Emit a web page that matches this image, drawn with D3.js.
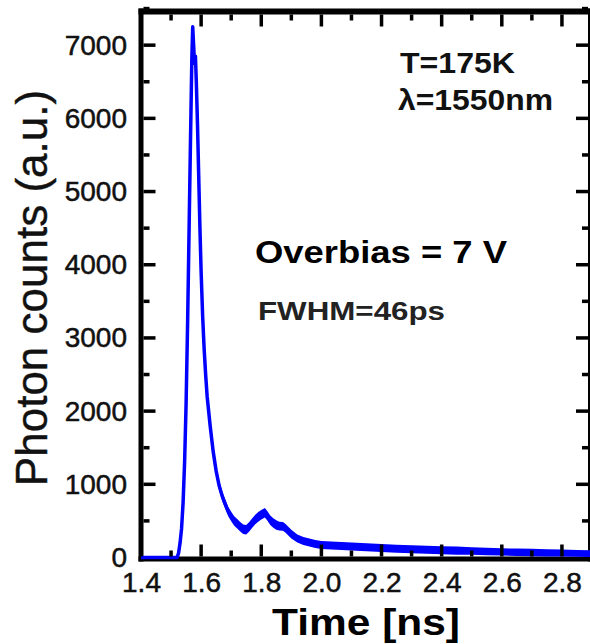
<!DOCTYPE html>
<html>
<head>
<meta charset="utf-8">
<script src="https://cdn.jsdelivr.net/npm/d3@7"></script>
<style>
  html, body { margin: 0; padding: 0; background: #fff; }
  svg { display: block; }
</style>
</head>
<body>
<svg id="chart" width="590" height="644"></svg>
<script>
// ---- data ----
const times = [1.40, 1.45, 1.50, 1.52, 1.525, 1.530, 1.535, 1.540, 1.545, 1.550, 1.555, 1.560, 1.565, 1.569, 1.572,
  1.575, 1.578, 1.581, 1.584, 1.588, 1.592, 1.596, 1.600, 1.605, 1.610, 1.615, 1.620, 1.630, 1.640, 1.650,
  1.660, 1.670, 1.680, 1.690, 1.700, 1.710, 1.720, 1.730, 1.740, 1.750, 1.760, 1.770, 1.780, 1.790, 1.800,
  1.812, 1.820, 1.830, 1.840, 1.850, 1.860, 1.872, 1.880, 1.890, 1.900, 1.920, 1.940, 1.960, 1.980, 2.000,
  2.050, 2.100, 2.150, 2.200, 2.250, 2.300, 2.350, 2.400, 2.450, 2.500, 2.550, 2.600, 2.650, 2.700, 2.750,
  2.800, 2.850, 2.900];
const counts = [0, 0, 0, 0, 60, 200, 400, 750, 1300, 2100, 3200, 4500, 5800, 6800, 7250,
  7000, 6750, 6850, 6500, 5900, 5200, 4500, 3900, 3300, 2850, 2500, 2200, 1800, 1450, 1180,
  980, 840, 730, 630, 560, 500, 460, 420, 385, 378, 420, 470, 520, 555, 585,
  610, 570, 510, 470, 445, 430, 425, 400, 360, 320, 260, 225, 205, 185, 170,
  160, 150, 140, 130, 120, 112, 105, 100, 94, 88, 82, 76, 72, 68, 64,
  60, 56, 52];
// half-width of the noisy band around the curve
const noise = [0, 0, 0, 0, 0, 0, 0, 0, 0, 0, 0, 0, 0, 0, 0,
  0, 0, 0, 0, 0, 0, 0, 10, 20, 30, 40, 50, 60, 65, 65,
  65, 65, 65, 65, 65, 65, 65, 65, 65, 65, 65, 65, 65, 65, 65,
  65, 65, 65, 65, 65, 60, 60, 60, 60, 60, 55, 55, 55, 55, 55,
  55, 55, 55, 55, 55, 55, 55, 55, 55, 52, 50, 50, 50, 50, 50,
  48, 46, 45];

const xMajor = [1.4, 1.6, 1.8, 2.0, 2.2, 2.4, 2.6, 2.8];
const xMinor = [1.5, 1.7, 1.9, 2.1, 2.3, 2.5, 2.7];
const yMajor = [0, 1000, 2000, 3000, 4000, 5000, 6000, 7000];
const yMinor = [500, 1500, 2500, 3500, 4500, 5500, 6500, 7500];
const xTitle = "Time [ns]";
const yTitle = "Photon counts (a.u.)";
const noteTemp = "T=175K";
const noteWave = "λ=1550nm";
const noteBias = "Overbias = 7 V";
const noteFwhm = "FWHM=46ps";

// ---- drawing ----
const FONT = "'Liberation Sans', Arial, Helvetica, sans-serif";
const svg = d3.select("#chart");
svg.append("rect").attr("width", 590).attr("height", 644).attr("fill", "#fff");

const x = d3.scaleLinear().domain([1.4, 2.9]).range([141, 592]);
const y = d3.scaleLinear().domain([0, 7460]).range([557.5, 11.5]);
const X0 = x(1.4), XR = 590.5, YB = y(0) + 1.5, YT = y.range()[1];

const data = times.map((t, i) => ({ t, c: counts[i], n: noise[i] }));

function box(x0, y0, w, h) {
  svg.append("rect").attr("x", x0).attr("y", y0).attr("width", w).attr("height", h).attr("fill", "#000");
}
// frame
box(X0 - 2.5, YT - 3, 5, YB + 2.5 - (YT - 3));
box(X0 - 2.5, YB - 2.5, 600 - X0, 5);
box(X0 - 2.5, YT - 3, 600 - X0, 6);
box(XR - 2.5, YT - 3, 5, YB + 2.5 - (YT - 3));

// curve: noise band + line
svg.append("path").datum(data)
  .attr("fill", "#0000ff")
  .attr("d", d3.area().x(d => x(d.t)).y0(d => y(Math.max(0, d.c - d.n))).y1(d => y(d.c + d.n)));
svg.append("path").datum(data)
  .attr("fill", "none").attr("stroke", "#0000ff").attr("stroke-width", 3.5).attr("stroke-linejoin", "round")
  .attr("d", d3.line().x(d => x(d.t)).y(d => y(d.c)));

// tick marks (inward), positioned with the scales
const MAJ = 12, MIN = 6, TW = 3.5;
xMajor.forEach(v => { box(x(v) - TW / 2, YB - 2.5 - MAJ, TW, MAJ); box(x(v) - TW / 2, YT + 3, TW, MAJ); });
xMinor.forEach(v => { box(x(v) - TW / 2, YB - 2.5 - MIN, TW, MIN); box(x(v) - TW / 2, YT + 3, TW, MIN); });
yMajor.slice(1).forEach(v => { box(X0 + 2.5, y(v) - TW / 2, MAJ, TW); box(XR - 2.5 - MAJ, y(v) - TW / 2, MAJ, TW); });
yMinor.forEach(v => { box(X0 + 2.5, y(v) - TW / 2, MIN, TW); box(XR - 2.5 - MIN, y(v) - TW / 2, MIN, TW); });

// tick labels through d3 axes
const gb = svg.append("g").attr("transform", `translate(0,${y(0)})`)
  .call(d3.axisBottom(x).tickValues(xMajor).tickSize(0).tickPadding(14.5).tickFormat(d3.format(".1f")));
gb.select(".domain").remove();
gb.selectAll(".tick line").remove();
gb.selectAll(".tick text").attr("font-family", FONT).attr("font-size", 28).attr("fill", "#111")
  .attr("stroke", "#111").attr("stroke-width", 0.5);

const gl = svg.append("g").attr("transform", `translate(${X0},0)`)
  .call(d3.axisLeft(y).tickValues(yMajor).tickSize(0).tickPadding(14).tickFormat(d3.format("d")));
gl.select(".domain").remove();
gl.selectAll(".tick line").remove();
gl.selectAll(".tick text").attr("font-family", FONT).attr("font-size", 28).attr("fill", "#111")
  .attr("stroke", "#111").attr("stroke-width", 0.5);

// titles
svg.append("text").text(xTitle)
  .attr("x", 366).attr("y", 635).attr("text-anchor", "middle")
  .attr("font-family", FONT).attr("font-weight", "bold").attr("font-size", 37)
  .attr("textLength", 188).attr("lengthAdjust", "spacingAndGlyphs").attr("fill", "#000");
svg.append("text").text(yTitle)
  .attr("transform", "translate(47,288) rotate(-90)").attr("text-anchor", "middle")
  .attr("font-family", FONT).attr("font-size", 44).attr("fill", "#111")
  .attr("stroke", "#111").attr("stroke-width", 0.4);

// annotations
function note(str, x0, base, size, len, color) {
  svg.append("text").text(str).attr("x", x0).attr("y", base)
    .attr("font-family", FONT).attr("font-weight", "bold").attr("font-size", size)
    .attr("textLength", len).attr("lengthAdjust", "spacingAndGlyphs").attr("fill", color);
}
note(noteTemp, 400, 73, 29, 115, "#111");
note(noteWave, 398, 110, 29, 155, "#111");
note(noteBias, 255, 263, 31, 252, "#000");
note(noteFwhm, 258, 320, 25, 187, "#222");
</script>
</body>
</html>
